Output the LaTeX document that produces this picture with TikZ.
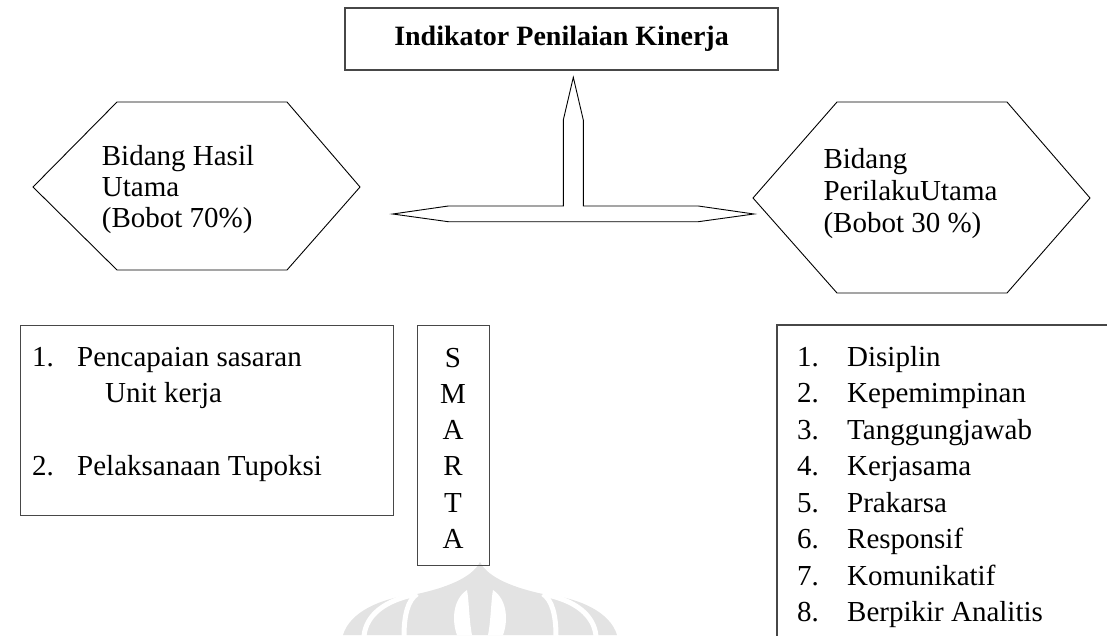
\documentclass[tikz,border=0pt]{standalone}
\usepackage{fontspec}
\setmainfont{Liberation Serif}
\begin{document}
\begin{tikzpicture}[x=1pt,y=-1pt,
  body/.style={font=\fontsize{29}{34}\selectfont, inner sep=0pt, anchor=base west, text=black},
  letter/.style={font=\fontsize{29}{34}\selectfont, inner sep=0pt, anchor=base, text=black},
  frame/.style={draw=black!72, line width=1.2pt, inner sep=0pt},
  outline/.style={draw=black, line width=0.9pt, line join=miter},
  logo/.style={fill=black!11, draw=none},
  logocut/.style={draw=white, line width=5pt}]
\useasboundingbox (0,0) rectangle (1107,635);

% faint emblem behind the SMARTA column
\path[logo] (343,635) .. controls (350,612) and (380,598) .. (417,594)
  .. controls (445,588) and (472,578) .. (480,562)
  .. controls (488,578) and (515,588) .. (543,594)
  .. controls (580,598) and (610,612) .. (617,635) -- cycle;
\draw[logocut] (364,636) .. controls (366,615) and (385,600) .. (417,594);
\draw[logocut] (404,636) .. controls (404,615) and (408,600) .. (417,594);
\draw[logocut] (596,636) .. controls (594,615) and (575,600) .. (543,594);
\draw[logocut] (556,636) .. controls (556,615) and (552,600) .. (543,594);
\fill[white] (467,590) .. controls (452,600) and (452,622) .. (457,635)
  -- (472,635) .. controls (469,620) and (469,600) .. (467,590) -- cycle;
\fill[white] (493,590) .. controls (508,600) and (508,622) .. (503,635)
  -- (488,635) .. controls (491,620) and (491,600) .. (493,590) -- cycle;

% title
\node[frame, draw, minimum width=433pt, minimum height=62pt] (title) at (561.5,39)
  {\fontsize{28}{34}\selectfont\bfseries Indikator Penilaian Kinerja};

% T-shaped double arrow
\coordinate (tipL) at (392.7,214);
\coordinate (tipR) at (754,214);
\coordinate (tipU) at (573.3,77.3);
\draw[outline] (tipL) -- (448.3,206) -- (563.3,206) -- (563.3,120) -- (tipU)
  -- (583.3,120) -- (583.3,206) -- (698.3,206) -- (tipR) -- (698.3,221.7)
  -- (448.3,221.7) -- cycle;

% left hexagon
\draw[outline] (33,187) -- (117,102) -- (287,102) -- (360,187) -- (287,270) -- (117,270) -- cycle;
\node[body] (hasilA) at (101.7,165) {Bidang Hasil};
\node[body] (hasilB) at (101.7,196) {Utama};
\node[body] (hasilC) at (101.7,227) {(Bobot 70\%)};

% right hexagon
\draw[outline] (753,198) -- (837,102) -- (1007,102) -- (1090,198) -- (1007,293) -- (837,293) -- cycle;
\node[body] (lakuA) at (823.3,168) {Bidang};
\node[body] (lakuB) at (823.3,200) {PerilakuUtama};
\node[body] (lakuC) at (823.3,232) {(Bobot 30 \%)};

% left list box
\node[frame, draw, minimum width=373pt, minimum height=190pt, anchor=north west] (hasilbox) at (20,325) {};
\node[body] (h1n) at (32,366) {1.};
\node[body] (h1) at (77,366) {Pencapaian sasaran};
\node[body] (h1b) at (105,402.3) {Unit kerja};
\node[body] (h2n) at (32,475) {2.};
\node[body] (h2) at (77,475) {Pelaksanaan Tupoksi};

% SMARTA column
\node[frame, draw, minimum width=72pt, minimum height=240pt, anchor=north west] (smarta) at (417,325) {};
\foreach \c [count=\i from 0] in {S,M,A,R,T,A}
  \node[letter] (sm\i) at (453,367+36.3*\i) {\c};

% right list box (runs off the page)
\coordinate (rbTR) at (1110,325);
\coordinate (rbTL) at (777,325);
\coordinate (rbBL) at (777,638);
\draw[frame] (rbTR) -- (rbTL) -- (rbBL);
\foreach \t [count=\i from 0] in {Disiplin,Kepemimpinan,Tanggungjawab,Kerjasama,Prakarsa,Responsif,Komunikatif,Berpikir Analitis}{
  \pgfmathtruncatemacro{\n}{\i+1}
  \node[body] (pn\i) at (797,366+36.5*\i) {\n.};
  \node[body] (p\i) at (847,366+36.5*\i) {\t};
}
\end{tikzpicture}
\end{document}
